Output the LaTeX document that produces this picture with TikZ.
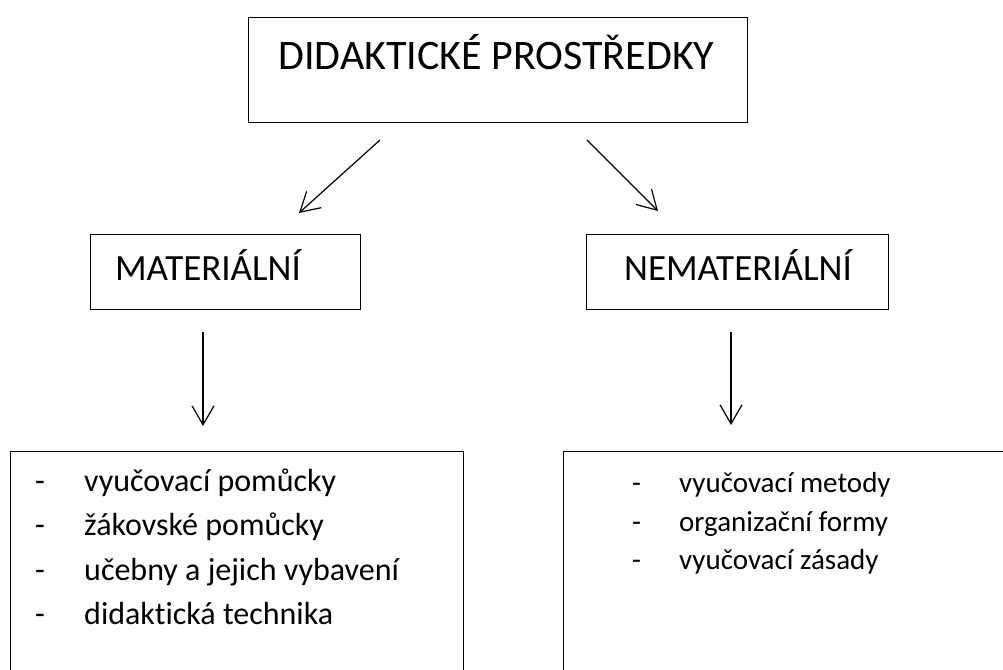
\documentclass[tikz,border=0pt]{standalone}
\usepackage{fontspec}
\setmainfont{Carlito}[Ligatures={NoCommon,NoDiscretionary,NoRare}]
\usetikzlibrary{arrows.meta}
\begin{document}
\begin{tikzpicture}[x=1pt,y=-1pt,
  box/.style={draw, line width=1pt, rectangle, inner sep=0pt},
  txt/.style={inner sep=0pt, anchor=base},
  ltxt/.style={inner sep=0pt, anchor=base west},
  arr/.style={line width=1.2pt, -{Straight Barb[length=19pt,width=22pt,line width=1.2pt]}},
  bigfont/.style={font=\fontsize{42}{50}\selectfont},
  midfont/.style={font=\fontsize{37}{44}\selectfont},
  lfont/.style={font=\fontsize{32}{40}\selectfont},
  rfont/.style={font=\fontsize{29}{36}\selectfont}]
\path[use as bounding box, clip] (0,0) rectangle (1003,669);
\fill[white] (0,0) rectangle (1003,669);
% boxes
\node[box, minimum width=499pt, minimum height=104pt] (top) at (497.5,70) {};
\node[box, minimum width=270pt, minimum height=75pt] (mat) at (225,271.5) {};
\node[box, minimum width=302pt, minimum height=75pt] (nemat) at (737,271.5) {};
\node[box, minimum width=453pt, minimum height=259pt] (lbox) at (236.5,580.5) {};
\node[box, minimum width=457pt, minimum height=259pt] (rbox) at (791.5,580.5) {};
% texts
\node[txt, bigfont] (ttl) at (496.5,69.5) {DIDAKTICKÉ PROSTŘEDKY};
\node[txt, midfont] (matt) at (208,280.5) {MATERIÁLNÍ};
\node[txt, midfont] (nematt) at (738,280.5) {NEMATERIÁLNÍ};
% left list
\node[ltxt, lfont] (ld1) at (35,491) {-};
\node[ltxt, lfont] (li1) at (84,491) {vyučovací pomůcky};
\node[ltxt, lfont] (ld2) at (35,535.5) {-};
\node[ltxt, lfont] (li2) at (84,535.5) {žákovské pomůcky};
\node[ltxt, lfont] (ld3) at (35,580) {-};
\node[ltxt, lfont] (li3) at (84,580) {učebny a jejich vybavení};
\node[ltxt, lfont] (ld4) at (35,624.5) {-};
\node[ltxt, lfont] (li4) at (84,624.5) {didaktická technika};
% right list
\node[ltxt, rfont] (rd1) at (632,492.5) {-};
\node[ltxt, rfont] (ri1) at (679,492.5) {vyučovací metody};
\node[ltxt, rfont] (rd2) at (632,531) {-};
\node[ltxt, rfont] (ri2) at (679,531) {organizační formy};
\node[ltxt, rfont] (rd3) at (632,569) {-};
\node[ltxt, rfont] (ri3) at (679,569) {vyučovací zásady};
% arrows
\coordinate (a1s) at (380,140);
\coordinate (a1e) at (299,213);
\coordinate (a2s) at (587,140);
\coordinate (a2e) at (658,211);
\coordinate (a3s) at (203,332);
\coordinate (a3e) at (203,426);
\coordinate (a4s) at (731,332);
\coordinate (a4e) at (731,425);
\draw[arr] (a1s) -- (a1e);
\draw[arr] (a2s) -- (a2e);
\draw[arr] (a3s) -- (a3e);
\draw[arr] (a4s) -- (a4e);
\end{tikzpicture}
\end{document}
